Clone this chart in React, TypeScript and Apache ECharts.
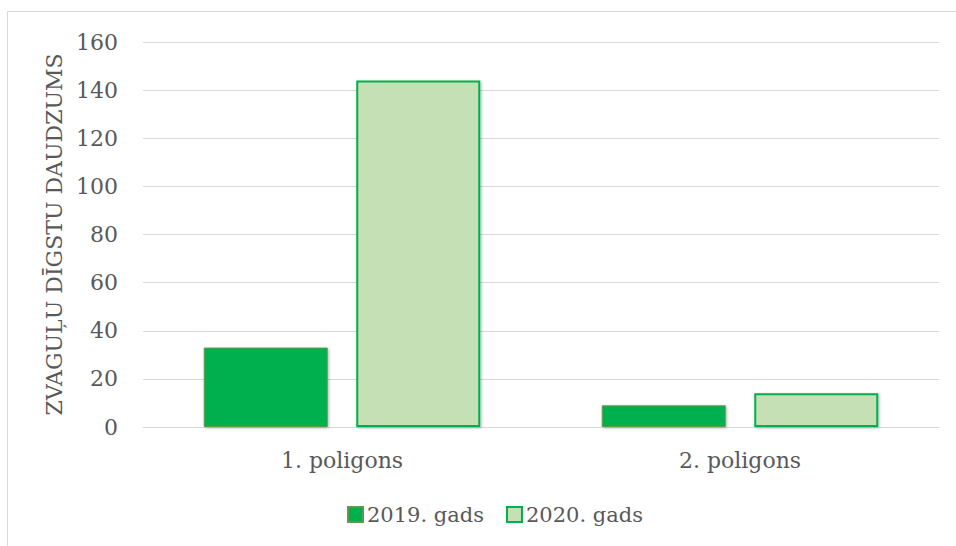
import React, { useEffect, useRef } from "react";
import * as echarts from "echarts";

const categories = ["1. poligons", "2. poligons"];
const series2019 = [33, 9];
const series2020 = [144, 14];
const seriesNames = ["2019. gads", "2020. gads"];
const yAxisName = "ZVAGUĻU DĪGSTU DAUDZUMS";

export default function App() {
  const ref = useRef<HTMLDivElement>(null);
  useEffect(() => {
    if (!ref.current) return;
    const chart = echarts.init(ref.current, null, { renderer: "svg" });
    const font = "DejaVu Serif";
    const fs = 22;
    const shadow = {
      shadowBlur: 3,
      shadowColor: "rgba(0,0,0,0.3)",
      shadowOffsetX: 1,
      shadowOffsetY: 1,
    };
    chart.setOption({
      animation: false,
      backgroundColor: "#ffffff",
      textStyle: { fontFamily: font, fontSize: fs },
      graphic: [
        {
          type: "rect",
          shape: { x: 7.5, y: 11.5, width: 1000, height: 600 },
          style: { fill: "none", stroke: "#d9d9d9", lineWidth: 1 },
          silent: true,
          z: -1,
        },
      ],
      grid: { left: 143, right: 17, top: 42, bottom: 119 },
      legend: {
        bottom: 16,
        left: 342,
        itemWidth: 15,
        itemHeight: 15,
        itemGap: 22,
        icon: "rect",
        textStyle: { fontFamily: font, fontSize: 21, color: "#595959", padding: [0, 0, 0, -1] },
        data: seriesNames,
      },
      xAxis: {
        type: "category",
        data: categories,
        axisLine: { show: true, lineStyle: { color: "#d9d9d9", width: 1 } },
        axisTick: { show: false },
        axisLabel: { fontFamily: font, fontSize: fs, color: "#595959", margin: 22 },
      },
      yAxis: {
        type: "value",
        min: 0,
        max: 160,
        interval: 20,
        name: yAxisName,
        nameLocation: "middle",
        nameGap: 78,
        nameTextStyle: { fontFamily: font, fontSize: fs, color: "#595959" },
        axisLine: { show: false },
        axisTick: { show: false },
        axisLabel: { fontFamily: font, fontSize: fs, color: "#595959", margin: 25 },
        splitLine: { lineStyle: { color: "#d9d9d9", width: 1 } },
      },
      series: [
        {
          name: seriesNames[0],
          type: "bar",
          data: series2019,
          barWidth: 124,
          barGap: "23%",
          itemStyle: { color: "#00b050", borderColor: "#5f9a4a", borderWidth: 1, ...shadow },
        },
        {
          name: seriesNames[1],
          type: "bar",
          data: series2020,
          barWidth: 124,
          itemStyle: { color: "#c5e0b4", borderColor: "#00b050", borderWidth: 2, ...shadow },
        },
      ],
    });
    return () => chart.dispose();
  }, []);
  return <div ref={ref} style={{ width: 956, height: 546, position: "absolute", left: 0, top: 0 }} />;
}
